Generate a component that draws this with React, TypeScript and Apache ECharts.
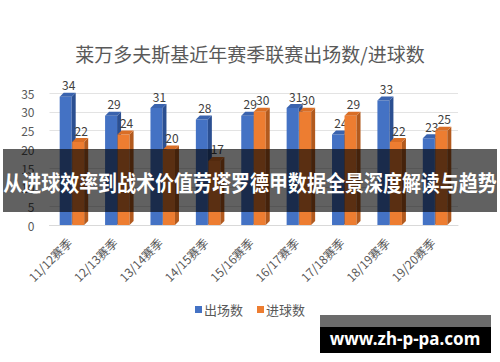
import React, { useEffect, useRef } from "react";
import * as echarts from "echarts";

const categories = ["11/12赛季", "12/13赛季", "13/14赛季", "14/15赛季", "15/16赛季", "16/17赛季", "17/18赛季", "18/19赛季", "19/20赛季"];
const appearances = [34, 29, 31, 28, 29, 31, 24, 33, 23];
const goals = [22, 24, 20, 17, 30, 30, 29, 22, 25];
const yTicks = { min: 0, max: 35, interval: 5 };
const titleText = "莱万多夫斯基近年赛季联赛出场数/进球数";
const bannerText = "从进球效率到战术价值劳塔罗德甲数据全景深度解读与趋势";
const watermarkText = "www.zh-p-pa.com";

const FONT = '"Noto Sans CJK SC", "Noto Sans", sans-serif';

type Palette = { front: string; side: string; top: string };

const makeRender = (pal: Palette, offset: number) => (params: any, api: any) => {
  const idx = api.value(0);
  const val = api.value(1);
  const top = api.coord([idx, val]);
  const base = api.coord([idx, 0]);
  const bw = 12;
  const d = 4;
  const x0 = top[0] + offset;
  const x1 = x0 + bw;
  const yt = top[1];
  const yb = base[1];
  return {
    type: "group",
    children: [
      { type: "rect", shape: { x: x0, y: yt, width: bw, height: yb - yt }, style: { fill: pal.front } },
      { type: "polygon", shape: { points: [[x1, yt], [x1 + d, yt - d], [x1 + d, yb - d], [x1, yb]] }, style: { fill: pal.side } },
      { type: "polygon", shape: { points: [[x0, yt], [x0 + d, yt - d], [x1 + d, yt - d], [x1, yt]] }, style: { fill: pal.top } },
      {
        type: "text",
        x: (x0 + x1 + d) / 2 + 1,
        y: yt - 12,
        style: { text: String(val), align: "center", verticalAlign: "middle", fill: "#404040", font: `12px ${FONT}` },
      },
    ],
  };
};

export default function App() {
  const ref = useRef<HTMLDivElement>(null);
  useEffect(() => {
    if (!ref.current) return;
    const chart = echarts.init(ref.current, undefined, { renderer: "svg" });
    const blue: Palette = { front: "#4472C4", side: "#2B4F91", top: "#3A63AE" };
    const orange: Palette = { front: "#ED7D31", side: "#B25A1E", top: "#D96E26" };
    chart.setOption({
      animation: false,
      backgroundColor: "#ffffff",
      title: {
        text: titleText,
        left: "center",
        top: 39,
        textStyle: { fontSize: 19, fontWeight: "normal", color: "#595959", fontFamily: FONT },
      },
      legend: {
        data: ["出场数", "进球数"],
        left: "center",
        top: 298,
        icon: "rect",
        itemWidth: 7,
        itemHeight: 7,
        itemGap: 14,
        textStyle: { fontSize: 13, color: "#595959", fontFamily: FONT, padding: [0, 0, 0, -3] },
      },
      grid: { left: 49.5, right: 42, top: 93, bottom: 137 },
      xAxis: {
        type: "category",
        data: categories,
        axisLine: { show: true, lineStyle: { color: "#d9d9d9" } },
        axisTick: { show: false },
        axisLabel: { rotate: 45, color: "#595959", fontSize: 12, fontFamily: FONT, margin: 12, interval: 0, padding: [0, 4, 0, 0] },
      },
      yAxis: {
        type: "value",
        min: yTicks.min,
        max: yTicks.max,
        interval: yTicks.interval,
        axisLine: { show: false },
        axisTick: { show: false },
        splitLine: { lineStyle: { color: "#e3e3e3" } },
        axisLabel: { color: "#595959", fontSize: 12, fontFamily: FONT, margin: 15, padding: [6, 0, 0, 0] },
      },
      series: [
        {
          name: "出场数",
          type: "custom",
          itemStyle: { color: blue.front },
          encode: { x: 0, y: 1 },
          data: appearances.map((v, i) => [i, v]),
          renderItem: makeRender(blue, -12.5),
        },
        {
          name: "进球数",
          type: "custom",
          itemStyle: { color: orange.front },
          encode: { x: 0, y: 1 },
          data: goals.map((v, i) => [i, v]),
          renderItem: makeRender(orange, 0),
        },
      ],
      graphic: [
        { type: "rect", z: 100, shape: { x: 3, y: 149, width: 494, height: 63 }, style: { fill: "rgba(0,0,0,0.62)" } },
        {
          type: "text",
          z: 101,
          x: 250,
          y: 182,
          scaleY: 1.12,
          style: { text: bannerText, align: "center", verticalAlign: "middle", fill: "#ffffff", font: `bold 19px ${FONT}` },
        },
        { type: "rect", z: 100, shape: { x: 320, y: 315, width: 171, height: 12 }, style: { fill: "#6b6b6b" } },
        { type: "rect", z: 100, shape: { x: 320, y: 327, width: 171, height: 26 }, style: { fill: "#000000" } },
        {
          type: "text",
          z: 101,
          x: 405,
          y: 338,
          style: { text: watermarkText, align: "center", verticalAlign: "middle", fill: "#ffffff", font: `bold 17px "Noto Sans", sans-serif` },
        },
      ],
    });
    return () => chart.dispose();
  }, []);
  return <div ref={ref} style={{ width: 500, height: 362, position: "absolute", left: 0, top: 0 }} />;
}
